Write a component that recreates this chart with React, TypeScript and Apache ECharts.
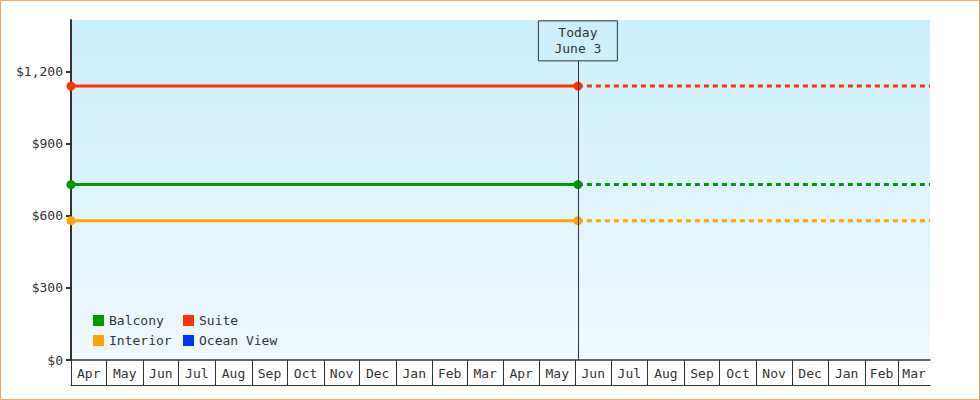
import { useEffect, useRef } from 'react';
import * as echarts from 'echarts';

// time span of the chart (UTC dates)
const startDate = '2023-04-01';
const todayDate = '2024-06-03';
const endDate = '2025-03-28';

const monthLabels = [
  'Apr', 'May', 'Jun', 'Jul', 'Aug', 'Sep', 'Oct', 'Nov', 'Dec', 'Jan', 'Feb', 'Mar',
  'Apr', 'May', 'Jun', 'Jul', 'Aug', 'Sep', 'Oct', 'Nov', 'Dec', 'Jan', 'Feb', 'Mar',
];

const cabinNames = ['Balcony', 'Suite', 'Interior', 'Ocean View'];
const cabinColors = ['#009900', '#ff3300', '#ffa500', '#0033ff'];

// price at the start and today; the forecast keeps today's price
const balconyPrices = [730, 730];
const suitePrices = [1140, 1140];
const interiorPrices = [580, 580];
const oceanViewPrices: number[] = [];

const yTicks = [0, 300, 600, 900, 1200];
const yMax = 1415;
const todayLineTop = 1245;
const todayLabel = 'Today\nJune 3';

const FONT = "'DejaVu Sans Mono', monospace";
const TEXT = '#333';

const t = (s: string) => Date.parse(s + 'T00:00:00Z');

export default function App() {
  const ref = useRef<HTMLDivElement>(null);

  useEffect(() => {
    document.body.style.margin = '0';
    if (!ref.current) return;
    const chart = echarts.init(ref.current, undefined, { renderer: 'svg' });

    const start = t(startDate);
    const today = t(todayDate);
    const end = t(endDate);
    const d0 = new Date(start);

    const monthStarts = monthLabels.map((_, i) =>
      Date.UTC(d0.getUTCFullYear(), d0.getUTCMonth() + i, 1)
    );
    const monthMids = monthStarts.map((m, i) => {
      const next = Date.UTC(d0.getUTCFullYear(), d0.getUTCMonth() + i + 1, 1);
      return Math.round((m + Math.min(next, end)) / 2);
    });

    const prices = [balconyPrices, suitePrices, interiorPrices, oceanViewPrices];
    const series: any[] = [];
    cabinNames.forEach((name, i) => {
      const p = prices[i];
      const color = cabinColors[i];
      series.push({
        name,
        type: 'line',
        color,
        symbol: 'circle',
        symbolSize: 9,
        lineStyle: { width: 3, color },
        itemStyle: { color },
        data: p.length ? [[start, p[0]], [today, p[1]]] : [],
        markLine: name === 'Suite' ? {
          silent: true,
          symbol: ['none', 'none'],
          emphasis: { disabled: true },
          lineStyle: { color: TEXT, width: 1, type: 'solid' },
          label: {
            show: true,
            position: 'end',
            distance: 0,
            formatter: todayLabel,
            color: TEXT,
            fontFamily: FONT,
            fontSize: 13,
            lineHeight: 16,
            padding: [4, 16],
            borderColor: TEXT,
            borderWidth: 1,
            align: 'center',
          },
          data: [[{ coord: [today, 0] }, { coord: [today, todayLineTop] }]],
        } : undefined,
      });
      if (p.length) {
        series.push({
          name,
          type: 'line',
          color,
          symbol: 'none',
          showSymbol: false,
          lineStyle: { width: 3, color, type: [5, 4] },
          itemStyle: { color },
          data: [[today, p[1]], [end, p[1]]],
        });
      }
    });

    const legendBase = {
      orient: 'vertical',
      icon: 'rect',
      itemWidth: 11,
      itemHeight: 11,
      itemGap: 7,
      top: 309,
      selectedMode: false,
      itemStyle: { borderWidth: 0 },
      textStyle: { color: TEXT, fontFamily: FONT, fontSize: 13 },
    };

    const option: any = {
      animation: false,
      textStyle: { fontFamily: FONT },
      grid: {
        left: 71,
        right: 50,
        top: 20,
        bottom: 40,
        show: true,
        borderWidth: 0,
        backgroundColor: new echarts.graphic.LinearGradient(0, 0, 0, 1, [
          { offset: 0, color: '#cbeffc' },
          { offset: 1, color: '#f0f9fe' },
        ]),
      },
      legend: [
        { ...legendBase, left: 88, data: [cabinNames[0], cabinNames[2]] },
        { ...legendBase, left: 178, data: [cabinNames[1], cabinNames[3]] },
      ],
      xAxis: [
        {
          type: 'value',
          min: start,
          max: end,
          axisLine: { show: true, lineStyle: { color: TEXT, width: 1.5 } },
          axisTick: {
            show: true,
            length: 25,
            customValues: monthStarts,
            lineStyle: { color: TEXT, width: 1 },
          },
          axisLabel: {
            customValues: monthMids,
            formatter: (v: number) => {
              const idx = monthMids.indexOf(v);
              return idx >= 0 ? monthLabels[idx] : '';
            },
            color: TEXT,
            fontFamily: FONT,
            fontSize: 13,
            margin: 7,
          },
          splitLine: { show: false },
        },
        {
          type: 'value',
          min: start,
          max: end,
          position: 'bottom',
          offset: 25,
          axisLine: { show: true, lineStyle: { color: TEXT, width: 1 } },
          axisTick: { show: false },
          axisLabel: { show: false },
          splitLine: { show: false },
        },
      ],
      yAxis: {
        type: 'value',
        min: 0,
        max: yMax,
        axisLine: { show: true, lineStyle: { color: TEXT, width: 2 } },
        axisTick: {
          show: true,
          length: 5,
          customValues: yTicks,
          lineStyle: { color: TEXT, width: 2 },
        },
        axisLabel: {
          customValues: yTicks,
          formatter: (v: number) => '$' + v.toLocaleString('en-US'),
          color: TEXT,
          fontFamily: FONT,
          fontSize: 13,
          margin: 8,
        },
        splitLine: { show: false },
      },
      series,
    };

    chart.setOption(option);
    return () => chart.dispose();
  }, []);

  return (
    <div style={{ position: 'relative', width: 980, height: 400 }}>
      <div ref={ref} style={{ width: 980, height: 400 }} />
      <div
        style={{
          position: 'absolute',
          inset: 0,
          border: '1px solid #f0aa60',
          pointerEvents: 'none',
        }}
      />
    </div>
  );
}
